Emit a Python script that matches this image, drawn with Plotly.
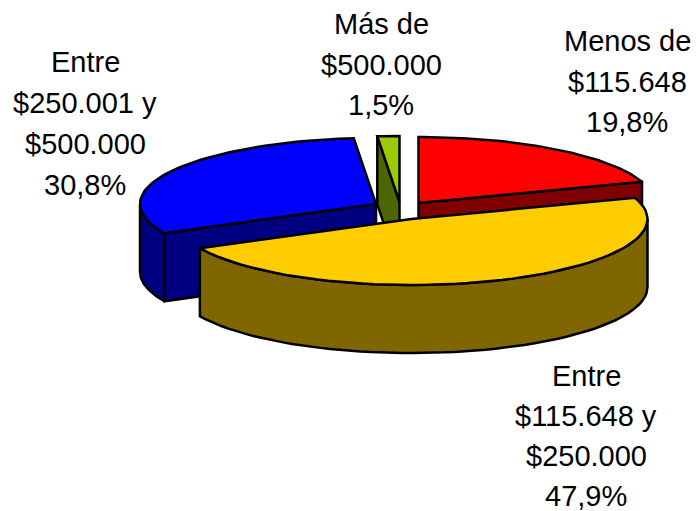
import math
import plotly.graph_objects as go

categories = ["Menos de $115.648", "Entre $115.648 y $250.000", "Entre $250.001 y $500.000", "Más de $500.000"]
values = [19.8, 47.9, 30.8, 1.5]
value_labels = ["19,8%", "47,9%", "30,8%", "1,5%"]
label_lines = [["Menos de", "$115.648"], ["Entre", "$115.648 y", "$250.000"], ["Entre", "$250.001 y", "$500.000"], ["Más de", "$500.000"]]
top_colors = ["#FF0000", "#FFCC00", "#0000FF", "#99CC00"]
side_colors = ["#800000", "#806600", "#000080", "#4D6600"]

RX, RY, H = 236, 66, 68
apexes = [(418.5, 203), (411.5, 219), (376, 204), (399.5, 202)]
label_pos = [(627, 41, 40.5), (586, 376, 40), (85, 62, 41), (381, 24, 40.5)]

total = sum(values)
spans = []
acc = 0
for v in values:
    spans.append((acc / total * 360, (acc + v) / total * 360))
    acc += v


def rim(apex, deg, drop=0):
    r = math.radians(deg)
    return apex[0] + RX * math.sin(r), apex[1] - RY * math.cos(r) + drop


def arc(apex, a, b, drop=0, n=60):
    return [rim(apex, a + (b - a) * i / n, drop) for i in range(n + 1)]


fig = go.Figure()


def poly(pts, color):
    fig.add_trace(go.Scatter(
        x=[p[0] for p in pts] + [pts[0][0]], y=[p[1] for p in pts] + [pts[0][1]],
        mode="lines", fill="toself", fillcolor=color,
        line=dict(color="black", width=2.5), hoverinfo="skip", showlegend=False))


def radial_face(i, deg):
    a = apexes[i]
    poly([a, rim(a, deg), rim(a, deg, H), (a[0], a[1] + H)], side_colors[i])


def outer_wall(i, a, b):
    ap = apexes[i]
    poly(arc(ap, a, b) + arc(ap, b, a, H), side_colors[i])


def top(i):
    a = apexes[i]
    s, e = spans[i]
    poly([a] + arc(a, s, e), top_colors[i])


# back to front: green, blue, red, yellow
radial_face(3, spans[3][0])
top(3)
radial_face(2, spans[2][0])
outer_wall(2, spans[2][0], 270)
top(2)
radial_face(0, spans[0][1])
top(0)
outer_wall(1, 90, spans[1][1])
top(1)

annotations = []
for i, lines in enumerate(label_lines):
    x, y0, step = label_pos[i]
    for j, t in enumerate(lines + [value_labels[i]]):
        annotations.append(dict(x=x, y=y0 + j * step, text=t, showarrow=False,
                                xanchor="center", yanchor="middle",
                                font=dict(family="Liberation Sans, Arial", size=29, color="black")))

fig.update_layout(
    width=696, height=511, margin=dict(l=0, r=0, t=0, b=0),
    paper_bgcolor="white", plot_bgcolor="white", showlegend=False,
    xaxis=dict(range=[0, 696], visible=False, fixedrange=True),
    yaxis=dict(range=[511, 0], visible=False, fixedrange=True),
    annotations=annotations,
)
fig.write_html("out.html", config={"displayModeBar": False},
               post_script="document.body.style.margin='0';document.documentElement.style.overflow='hidden';")
